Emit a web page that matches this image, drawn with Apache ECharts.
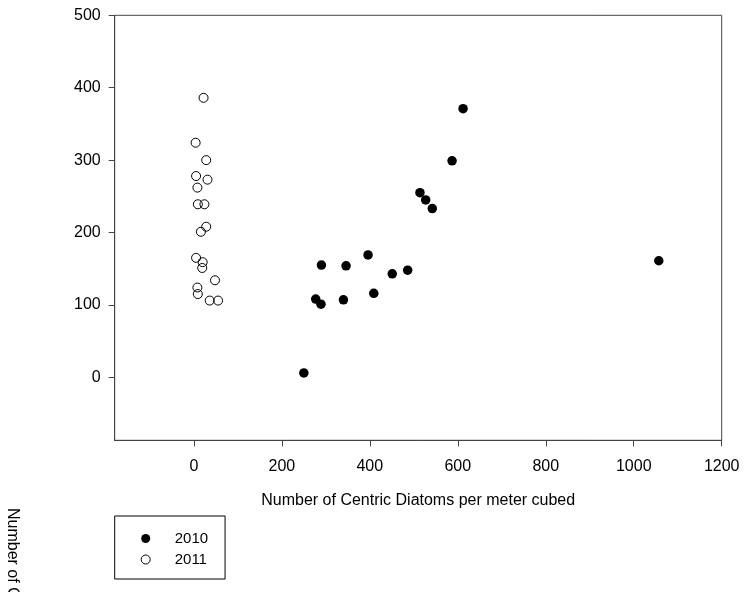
<!DOCTYPE html>
<html>
<head>
<meta charset="utf-8">
<script src="https://cdn.jsdelivr.net/npm/echarts@6/dist/echarts.min.js"></script>
<style>html,body{margin:0;padding:0;background:#fff}#c{width:744px;height:592px}</style>
</head>
<body>
<div id="c"></div>
<script>
// Data
const x2010 = [250, 277, 289, 290, 340, 346, 396, 409, 451, 486, 514, 527, 542, 587, 612, 1057];
const y2010 = [6, 108, 101, 155, 107, 154, 169, 116, 143, 148, 255, 245, 233, 299, 371, 161];
const x2011 = [22, 4, 28, 5, 31, 8, 9, 24, 28, 16, 5, 20, 19, 48, 8, 9, 36, 55];
const y2011 = [386, 324, 300, 278, 273, 262, 239, 239, 208, 201, 165, 159, 151, 134, 124, 115, 106, 106];
const xTicks = [0, 200, 400, 600, 800, 1000, 1200];
const yTicks = [0, 100, 200, 300, 400, 500];
const seriesNames = ['2010', '2011'];
const xTitle = 'Number of Centric Diatoms per meter cubed';
const yTitle = 'Number of C';

const FONT = 'Liberation Sans, Arial, sans-serif';
const pts = (xs, ys) => xs.map((x, i) => [x, ys[i]]);

const chart = echarts.init(document.getElementById('c'), null, {renderer: 'canvas'});
chart.setOption({
  animation: false,
  backgroundColor: '#fff',
  grid: {left: 114.7, right: 22.3, top: 15.3, bottom: 151.7, show: true, borderColor: '#444', borderWidth: 1, backgroundColor: 'transparent'},
  xAxis: {
    type: 'value', min: -180, max: 1200,
    name: xTitle, nameLocation: 'middle', nameGap: 52,
    nameTextStyle: {fontFamily: FONT, fontSize: 16, color: '#000'},
    axisLine: {onZero: false, lineStyle: {color: '#444', width: 1}},
    axisTick: {show: true, length: 6, customValues: xTicks, lineStyle: {color: '#444'}},
    axisLabel: {customValues: xTicks, margin: 18, fontFamily: FONT, fontSize: 16, color: '#000', formatter: v => String(v)},
    splitLine: {show: false}
  },
  yAxis: {
    type: 'value', min: -87, max: 500,
    axisLine: {show: true, onZero: false, lineStyle: {color: '#444', width: 1}},
    axisTick: {show: true, length: 6, customValues: yTicks, lineStyle: {color: '#444'}},
    axisLabel: {customValues: yTicks, margin: 14, fontFamily: FONT, fontSize: 16, color: '#000', formatter: v => String(v)},
    splitLine: {show: false}
  },
  legend: {
    orient: 'vertical', left: 114.7, top: 516,
    padding: [15, 17, 12, 26], itemGap: 6,
    itemWidth: 48, itemHeight: 9,
    borderColor: '#000', borderWidth: 1,
    textStyle: {fontFamily: FONT, fontSize: 15, color: '#000', lineHeight: 15, padding: [0, 0, 0, 0]},
    data: [
      {name: seriesNames[0], icon: 'circle', itemStyle: {color: '#000', borderWidth: 0}},
      {name: seriesNames[1], icon: 'circle', itemStyle: {color: 'rgba(0,0,0,0)', borderColor: '#000', borderWidth: 1}}
    ]
  },
  graphic: [{
    type: 'text', left: 4, top: 508, rotation: -Math.PI / 2,
    style: {text: yTitle, fontFamily: FONT, fontSize: 16, fill: '#000'}
  }],
  series: [
    {name: seriesNames[0], type: 'scatter', data: pts(x2010, y2010), symbol: 'circle', symbolSize: 9.5,
     itemStyle: {color: '#000', opacity: 1}},
    {name: seriesNames[1], type: 'scatter', data: pts(x2011, y2011), symbol: 'circle', symbolSize: 9,
     itemStyle: {color: 'rgba(0,0,0,0)', borderColor: '#000', borderWidth: 1, opacity: 1}}
  ]
});
</script>
</body>
</html>
